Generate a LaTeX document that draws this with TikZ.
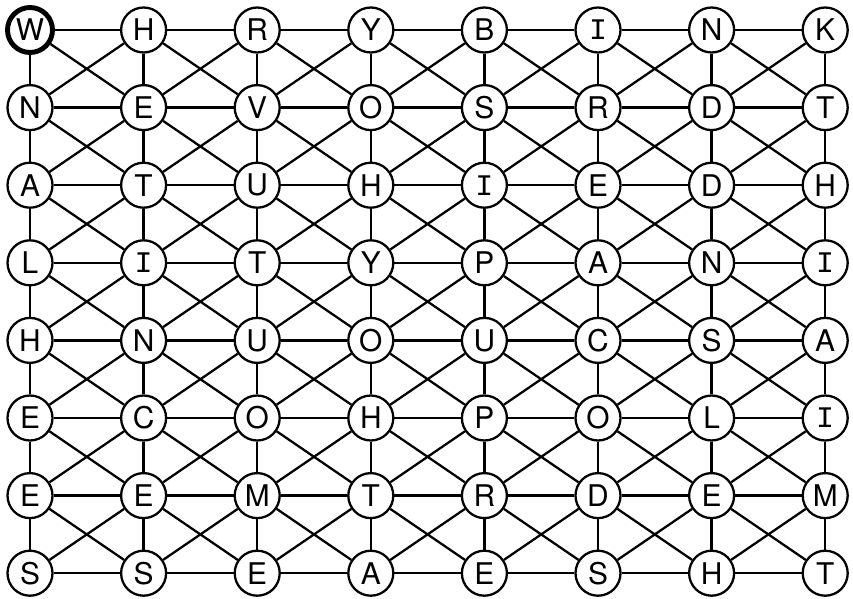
\documentclass[tikz,border=0pt]{standalone}
\usepackage{fontspec}
\setmainfont{TeX Gyre Heros}
\newfontfamily\serifI{Liberation Mono}
\newcommand{\Ibar}{{\serifI I}}
\usetikzlibrary{backgrounds}

\begin{document}
\begin{tikzpicture}[x=2.272cm,y=-1.552cm,
 letter/.style={draw,circle,fill=white,line width=1.3pt,
 minimum size=0.9cm,inner sep=0pt,font=\fontsize{17}{17}\selectfont},
 cell-1-1/.style={line width=2.8pt},
 link/.style={line width=1.3pt}]
\useasboundingbox (-0.6cm,0.6cm) rectangle (16.46cm,-11.38cm);
% letters
\foreach \row [count=\r] in {{W,H,R,Y,B,\Ibar,N,K},{N,E,V,O,S,R,D,T},
 {A,T,U,H,\Ibar,E,D,H},{L,\Ibar,T,Y,P,A,N,\Ibar},{H,N,U,O,U,C,S,A},
 {E,C,O,H,P,O,L,\Ibar},{E,E,M,T,R,D,E,M},{S,S,E,A,E,S,H,T}}
 \foreach \ch [count=\c] in \row
 \node[letter,cell-\r-\c/.try] (l-\r-\c) at (\c-1,\r-1) {\ch};
% grid links
\begin{scope}[on background layer]
\foreach \r in {1,...,8}
 \foreach \c in {1,...,8} {
 \pgfmathtruncatemacro\rr{\r+1}
 \pgfmathtruncatemacro\cc{\c+1}
 \ifnum\c<8 \draw[link] (l-\r-\c) -- (l-\r-\cc); \fi
 \ifnum\r<8 \draw[link] (l-\r-\c) -- (l-\rr-\c); \fi
 \ifnum\r<8 \ifnum\c<8
 \draw[link] (l-\r-\c) -- (l-\rr-\cc) (l-\r-\cc) -- (l-\rr-\c);
 \fi\fi
 }
\end{scope}
\end{tikzpicture}
\end{document}
